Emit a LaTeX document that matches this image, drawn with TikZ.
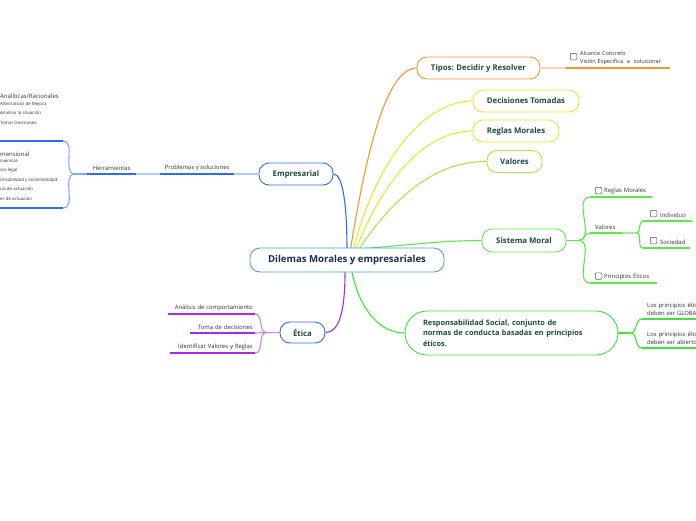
\documentclass[tikz,border=0pt]{standalone}
\usepackage{fontspec}
\setmainfont{Open Sans}
\usepackage{tikz}
\usetikzlibrary{positioning,calc,backgrounds}
\definecolor{rootblue}{HTML}{4B9FE0}
\definecolor{rootnavy}{HTML}{1B2A4F}
\definecolor{txtgrn}{HTML}{1E4A3C}
\definecolor{cEmp}{HTML}{2F6CF0}
\definecolor{cOr}{HTML}{F7962A}
\definecolor{cYel}{HTML}{F5E23A}
\definecolor{cRm}{HTML}{D9EE3C}
\definecolor{cVal}{HTML}{A6EB3F}
\definecolor{cSys}{HTML}{5BEA45}
\definecolor{cResp}{HTML}{3EE33E}
\definecolor{cPur}{HTML}{A52BE8}

\begin{document}
\begin{tikzpicture}[x=1pt,y=-1pt,
        topic/.style={draw,rounded corners=10pt,fill=white,line width=0.9pt,minimum height=22pt,
            inner sep=0pt,text=txtgrn,font=\fontsize{7.8}{9}\selectfont\bfseries},
        leaf/.style={inner xsep=2pt,inner ysep=3pt,font=\fontsize{5.9}{8.5}\selectfont,text=black!80},
        tiny/.style={anchor=west,inner sep=0pt,font=\fontsize{4.4}{5}\selectfont,text=black!80},
        chk/.style={draw=black!65,rounded corners=1pt,minimum size=6.5pt,inner sep=0pt,line width=0.5pt},
        branch/.style={line width=1.1pt},
        uline/.style={line width=1.5pt}]
    \useasboundingbox (0,0) rectangle (696,520);
    \clip (0,0) rectangle (696,520);

    % main topics
    \node[topic,draw=rootblue,text=rootnavy,minimum width=194,minimum height=24,
        font=\fontsize{9.6}{11}\selectfont\bfseries] (root) at (347,260) {Dilemas Morales y empresariales};
    \node[topic,draw=cEmp,minimum width=74] (emp) at (296,174) {Empresarial};
    \node[topic,draw=cOr,minimum width=123] (tipos) at (478.5,68) {Tipos: Decidir y Resolver};
    \node[topic,draw=cYel,minimum width=106] (decis) at (526,101) {Decisiones Tomadas};
    \node[topic,draw=cRm,minimum width=86] (reglas) at (516,131) {Reglas Morales};
    \node[topic,draw=cVal,minimum width=55] (valores) at (514.5,161.5) {Valores};
    \node[topic,draw=cSys,minimum width=84,minimum height=23] (sysm) at (524,240.5) {Sistema Moral};
    \node[topic,draw=cResp,rounded corners=22pt,minimum width=213,minimum height=44,text width=177,
        align=left,font=\fontsize{7.4}{10.5}\selectfont\bfseries] (resp) at (511.5,333)
        {Responsabilidad Social, conjunto de\\normas de conducta basadas en principios\\éticos.};
    \node[topic,draw=cEmp,minimum width=45,minimum height=21] (etica) at (302.5,332.5) {Ética};

    % Empresarial
    \node[leaf,anchor=south west,minimum width=74] (prob) at (160,174) {Problemas y soluciones};
    \node[leaf,anchor=south west,minimum width=49] (herr) at (87,174) {Herramientas};
    \coordinate (anaStart) at (0,141);
    \coordinate (anaEnd) at (63,141);
    \coordinate (mulStart) at (0,208);
    \coordinate (mulEnd) at (63,208);
    \node[tiny,font=\fontsize{6}{7}\selectfont] (ana) at (0,96) {Analíticas/Racionales};
    \node[tiny] (ana1) at (0,104) {Alternativas de Mejora};
    \node[tiny] (ana2) at (0,113) {Analizar la situación};
    \node[tiny] (ana3) at (0,123) {Tomar Decisiones};
    \node[tiny,font=\fontsize{6}{7}\selectfont] (mul) at (0,154) {mensional};
    \node[tiny] (mul1) at (0,161) {cuencias};
    \node[tiny] (mul2) at (0,170) {rco legal};
    \node[tiny] (mul3) at (0,180) {onsabilidad y Sostenibilidad};
    \node[tiny] (mul4) at (0,189) {ias de actuación};
    \node[tiny] (mul5) at (0,199) {es de actuación};

    % Tipos
    \node[leaf,anchor=south west,text width=100,align=left,font=\fontsize{5.6}{8.2}\selectfont] (alc) at (566,68)
        {\hspace*{12pt}Alcance Concreto\\\hspace*{12pt}Visión Específica\ \ a\ \ solucionar};
    \node[chk] (chkA) at (573.5,56.5) {};

    % Sistema Moral
    \node[leaf,anchor=south west,text width=58,align=left] (smreg) at (590,197) {\hspace*{12pt}Reglas Morales};
    \node[chk] (chkR) at (598.5,190.5) {};
    \node[leaf,anchor=south west,text width=28,align=left] (val) at (590,233) {\hspace*{3pt}Valores};
    \node[leaf,anchor=south west,text width=45,align=left] (ind) at (643,221) {\hspace*{15pt}Individuo};
    \node[chk] (chkI) at (653.5,213.5) {};
    \node[leaf,anchor=south west,text width=43,align=left] (soc) at (643,248) {\hspace*{15pt}Sociedad};
    \node[chk] (chkS) at (653.5,240.5) {};
    \node[leaf,anchor=south west,text width=63,align=left] (prin) at (590,283) {\hspace*{12pt}Principios Éticos};
    \node[chk] (chkP) at (598.5,276) {};

    % Responsabilidad
    \node[leaf,anchor=south west,text width=60,align=left] (lp1) at (642,319)
        {\hspace*{3pt}Los principios étic\\\hspace*{3pt}deben ser GLOBA};
    \node[leaf,anchor=south west,text width=60,align=left] (lp2) at (642,348)
        {\hspace*{3pt}Los principios étic\\\hspace*{3pt}deben ser abierto};

    % Etica
    \node[leaf,anchor=south east,text width=83,align=right] (comp) at (255,314) {Análisis de comportamiento};
    \node[leaf,anchor=south east,text width=61,align=right] (toma) at (255,333) {Toma de decisiones};
    \node[leaf,anchor=south east,text width=81,align=right] (ident) at (255,353) {Identificar Valores y Reglas};

    \begin{scope}[on background layer]
        \coordinate (hub) at (347,252);
        \draw[branch,cEmp] (emp.east) .. controls (343,174) and (347,205) .. (hub);
        \draw[branch,cOr] ($(hub)+(3,0)$) .. controls (365,160) and (385,68) .. (tipos.west);
        \draw[branch,cYel] ($(hub)+(6,0)$) .. controls (372,170) and (420,101) .. (decis.west);
        \draw[branch,cRm] ($(hub)+(8,0)$) .. controls (378,190) and (420,131) .. (reglas.west);
        \draw[branch,cVal] ($(hub)+(10,0)$) .. controls (388,205) and (430,161) .. (valores.west);
        \draw[branch,cSys] ($(hub)+(11,-3)$) .. controls (400,246) and (440,240.5) .. (sysm.west);
        \draw[branch,cResp] ($(root.south)+(5,0)$) .. controls (360,310) and (380,333) .. (resp.west);
        \draw[branch,cPur] ($(root.south)+(-2,0)$) .. controls (345,315) and (338,332.5) .. (etica.east);
    \end{scope}

    % Empresarial lines
    \draw[uline,cEmp!35] (emp.west) -- (prob.south east);
    \draw[uline,cEmp] (prob.south west) -- (prob.south east);
    \draw[uline,cEmp!35] (herr.south east) -- (prob.south west);
    \draw[uline,cEmp] (herr.south west) -- (herr.south east);
    \draw[branch,cEmp!60] (herr.south west) -- ++(-12,0) coordinate (fh);
    \draw[branch,cEmp!60] (fh) to[out=180,in=0] (anaEnd);
    \draw[branch,cEmp!60] (fh) to[out=180,in=0] (mulEnd);
    \draw[uline,cEmp] (anaStart) -- (anaEnd);
    \draw[uline,cEmp] (mulStart) -- (mulEnd);

    % Tipos lines
    \draw[uline,cOr!40] (tipos.east) -- (alc.south west);
    \draw[uline,cOr] (alc.south west) -- (alc.south east);

    % Sistema lines
    \draw[branch,cSys] (sysm.east) -- ++(12,0) coordinate (fs);
    \draw[branch,cSys] (fs) to[out=0,in=180] (smreg.south west);
    \draw[branch,cSys] (fs) to[out=0,in=180] (val.south west);
    \draw[branch,cSys] (fs) to[out=0,in=180] (prin.south west);
    \draw[uline,cSys] (smreg.south west) -- (smreg.south east);
    \draw[uline,cSys] (val.south west) -- (val.south east);
    \draw[uline,cSys] (prin.south west) -- (prin.south east);
    \draw[branch,cSys!60] (val.south east) -- ++(14,0) coordinate (fv);
    \draw[branch,cSys] (fv) to[out=0,in=180] (ind.south west);
    \draw[branch,cSys] (fv) to[out=0,in=180] (soc.south west);
    \draw[uline,cSys] (ind.south west) -- (ind.south east);
    \draw[uline,cSys] (soc.south west) -- (soc.south east);

    % Responsabilidad lines
    \draw[branch,cResp] (resp.east) -- ++(12,0) coordinate (fr);
    \draw[branch,cResp] (fr) to[out=0,in=180] (lp1.south west);
    \draw[branch,cResp] (fr) to[out=0,in=180] (lp2.south west);
    \draw[uline,cResp] (lp1.south west) -- (lp1.south east);
    \draw[uline,cResp] (lp2.south west) -- (lp2.south east);

    % Etica lines
    \draw[branch,cPur!60] (etica.west) -- ++(-13,0) coordinate (fe);
    \draw[branch,cPur!60] (fe) to[out=180,in=0] (comp.south east);
    \draw[branch,cPur!60] (fe) to[out=180,in=0] (toma.south east);
    \draw[branch,cPur!60] (fe) to[out=180,in=0] (ident.south east);
    \draw[uline,cPur] (comp.south west) -- (comp.south east);
    \draw[uline,cPur] (toma.south west) -- (toma.south east);
    \draw[uline,cPur] (ident.south west) -- (ident.south east);
\end{tikzpicture}
\end{document}
